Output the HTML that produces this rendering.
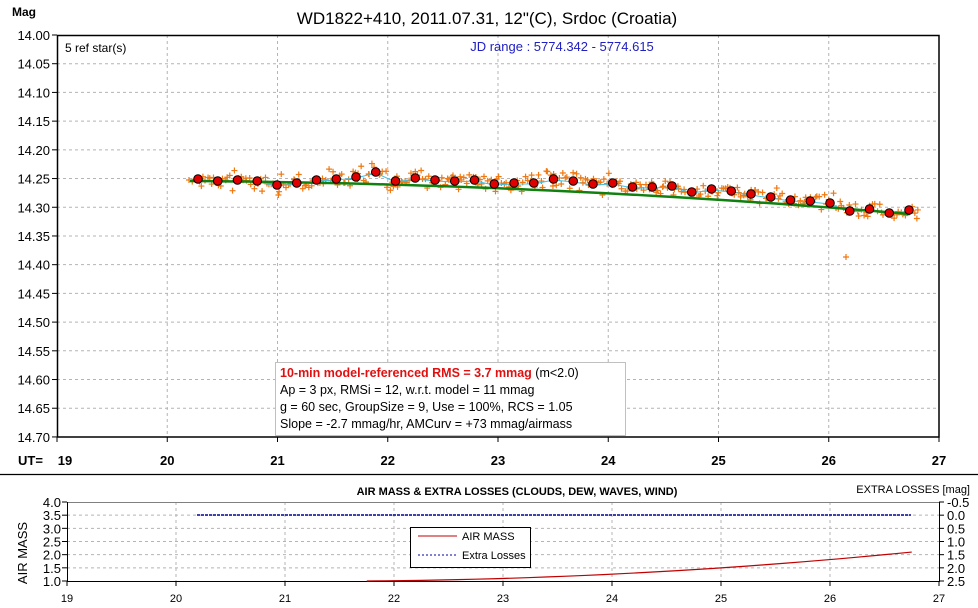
<!DOCTYPE html>
<html><head><meta charset="utf-8"><style>
body{margin:0;background:#fff}
svg{display:block;font-family:"Liberation Sans",Arial,sans-serif}
</style></head><body>
<svg id="s" width="978" height="608" viewBox="0 0 978 608" xmlns="http://www.w3.org/2000/svg">
<rect width="978" height="608" fill="#fff"/>
<text x="487" y="24" font-size="17" text-anchor="middle">WD1822+410, 2011.07.31, 12"(C), Srdoc (Croatia)</text>
<text x="12" y="16" font-size="12" font-weight="bold">Mag</text>
<g id="grid" stroke="#b4b4b4" stroke-dasharray="3,3" stroke-width="1"></g>
<g id="main"></g>
<rect x="57.5" y="35.5" width="881.5" height="401.5" fill="none" stroke="#000" stroke-width="1.5"/>
<text x="65" y="52" font-size="12">5 ref star(s)</text>
<text x="562" y="51" font-size="13" fill="#2020c0" text-anchor="middle">JD range : 5774.342 - 5774.615</text>
<rect x="275.5" y="362.5" width="350" height="73" fill="#fff" stroke="#c0c0c0"/>
<text x="280" y="377" font-size="12.5"><tspan fill="#e01010" font-weight="bold">10-min model-referenced RMS = 3.7 mmag</tspan> (m&lt;2.0)</text>
<text x="280" y="394" font-size="12.5">Ap = 3 px, RMSi = 12, w.r.t. model = 11 mmag</text>
<text x="280" y="411" font-size="12.5">g = 60 sec, GroupSize = 9, Use = 100%, RCS = 1.05</text>
<text x="280" y="428" font-size="12.5">Slope = -2.7 mmag/hr, AMCurv = +73 mmag/airmass</text>
<text x="18" y="465" font-size="13" font-weight="bold">UT=</text>
<line x1="0" y1="474.5" x2="978" y2="474.5" stroke="#000" stroke-width="1.2"/>
<text x="517" y="495" font-size="11" font-weight="bold" text-anchor="middle">AIR MASS &amp; EXTRA LOSSES (CLOUDS, DEW, WAVES, WIND)</text>
<text x="970" y="493" font-size="11" text-anchor="end">EXTRA LOSSES [mag]</text>
<text transform="translate(27,553) rotate(-90)" font-size="13" text-anchor="middle">AIR MASS</text>
<g id="bot"></g>
<rect x="410.5" y="527.5" width="120" height="40" fill="#fff" stroke="#000"/>
<line x1="418" y1="536" x2="457" y2="536" stroke="#c00000" stroke-width="1"/>
<text x="462" y="540" font-size="11">AIR MASS</text>
<line x1="418" y1="555" x2="457" y2="555" stroke="#0000a0" stroke-dasharray="2,2"/>
<text x="462" y="559" font-size="11">Extra Losses</text>
</svg>
<script>
var NS="http://www.w3.org/2000/svg";
function el(p,t,a,txt){var e=document.createElementNS(NS,t);for(var k in a)e.setAttribute(k,a[k]);if(txt!=null)e.textContent=txt;p.appendChild(e);return e;}
var grid=document.getElementById('grid'),main=document.getElementById('main'),bot=document.getElementById('bot'),s=document.getElementById('s');
function X(h){return 57+(h-19)*110.25;}
function Y(m){return 35+(m-14)/0.05*28.71;}
for(var i=1;i<14;i++){var y=Y(14+i*0.05);el(grid,'line',{x1:57,y1:y,x2:939,y2:y});}
for(var h=20;h<27;h++){var x=X(h);el(grid,'line',{x1:x,y1:35,x2:x,y2:437});}
for(var i=0;i<=14;i++){var y=Y(14+i*0.05);el(s,'line',{x1:52,y1:y,x2:57,y2:y,stroke:'#000'});el(s,'text',{x:50,y:y+5,'font-size':13,'text-anchor':'end'},(14+i*0.05).toFixed(2));}
for(var h=19;h<=27;h++){var x=X(h);el(s,'line',{x1:x,y1:437,x2:x,y2:442,stroke:'#000'});el(s,'text',{x:h==19?x+8:x,y:465,'font-size':13,'font-weight':'bold','text-anchor':'middle'},h);}
var dy=[179,181,180,181,185,183,180,179,177,172,181,178,180,181,180,184,183,183,179,181,184,183,187,187,186,192,189,191,194,197,200,201,203,211,209,213,210];
var seed=7;function rnd(){seed=(seed*16807)%2147483647;return seed/2147483647;}
function gauss(){return (rnd()+rnd()+rnd()+rnd()-2)*1.7;}
var g='';
for(var i=0;i<dy.length;i++){var cx=198+i*19.75;
 for(var j=0;j<9;j++){var px=cx-9+j*2.2+rnd()*2,py=dy[i]+gauss()*4;
  g+='<path d="M'+(px-3)+' '+py+'h6M'+px+' '+(py-3)+'v6" stroke="#f07810" stroke-width="1.2"/>';}}
g+='<path d="M843 257h6M846 254v6" stroke="#f07810" stroke-width="1.2"/>';
var cy='M190 180';for(var i=0;i<dy.length;i++){cy+=' L'+(198+i*19.75)+' '+(dy[i]+1);}
g+='<path d="'+cy+'" fill="none" stroke="#40c0e0" stroke-width="1"/>';
var gl='';for(var k=0;k<=40;k++){var x=190+k*(720/40),t=(x-190)/720;var y=181+5*t+28*t*t;gl+=(k?' L':'M')+x+' '+y;}
g+='<path d="'+gl+'" fill="none" stroke="#108010" stroke-width="2.5"/>';
for(var i=0;i<dy.length;i++){g+='<circle cx="'+(198+i*19.75)+'" cy="'+dy[i]+'" r="4.3" fill="#e00000" stroke="#000" stroke-width="1"/>';}
main.innerHTML=g;
function BX(h){return 67+(h-19)*109;}
function BY(a){return 581-(a-1)*26.33;}
var b='';
for(var i=1;i<6;i++){var y=BY(1+i*0.5);b+='<line x1="67" y1="'+y+'" x2="939" y2="'+y+'" stroke="#b4b4b4" stroke-dasharray="3,3"/>';}
for(var h=20;h<27;h++){var x=BX(h);b+='<line x1="'+x+'" y1="502" x2="'+x+'" y2="581" stroke="#b4b4b4" stroke-dasharray="3,3"/>';}
b+='<line x1="67" y1="502.5" x2="939" y2="502.5" stroke="#808080"/>';
b+='<line x1="67.5" y1="502" x2="67.5" y2="582" stroke="#000"/><line x1="67" y1="581.5" x2="939" y2="581.5" stroke="#000"/><line x1="939.5" y1="502" x2="939.5" y2="582" stroke="#000"/>';
var lr=['-0.5','0.0','0.5','1.0','1.5','2.0','2.5'];
for(var i=0;i<=6;i++){var a=4-i*0.5,y=BY(a);b+='<line x1="62" y1="'+y+'" x2="67" y2="'+y+'" stroke="#000"/><text x="61" y="'+(y+5)+'" font-size="13" text-anchor="end">'+a.toFixed(1)+'</text>';
 b+='<line x1="939" y1="'+y+'" x2="944" y2="'+y+'" stroke="#000"/><text x="947" y="'+(y+5)+'" font-size="13">'+lr[i]+'</text>';}
for(var h=19;h<=27;h++){var x=BX(h);b+='<line x1="'+x+'" y1="581" x2="'+x+'" y2="586" stroke="#000"/><text x="'+x+'" y="602" font-size="11" text-anchor="middle">'+h+'</text>';}
b+='<line x1="197" y1="515" x2="911" y2="515" stroke="#0000a0" stroke-width="1.6" stroke-dasharray="3,1"/>';
var am='';for(var k=0;k<=30;k++){var h=21.75+k*(26.75-21.75)/30,t=(h-21.75)/5;var a=1.0+0.15*t+0.95*t*t;am+=(k?' L':'M')+BX(h)+' '+BY(a);}
b+='<path d="'+am+'" fill="none" stroke="#c00000" stroke-width="1.2"/>';
bot.innerHTML=b;
</script>
</body></html>
